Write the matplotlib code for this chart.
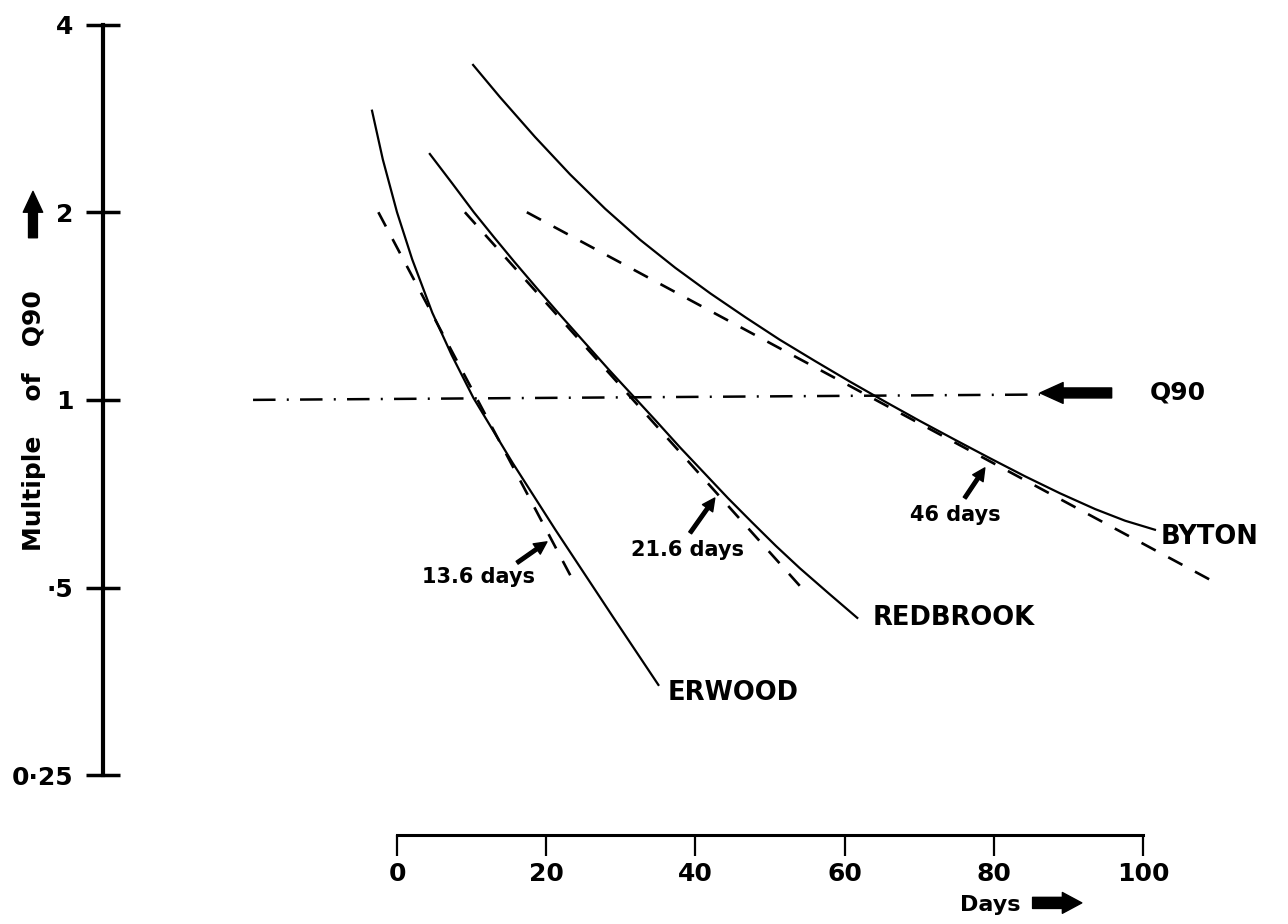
import matplotlib
matplotlib.use('Agg')
import matplotlib.pyplot as plt
from matplotlib.ticker import NullLocator

# ---------------- data ----------------
erwood_days = [-3.35, -1.9, 0.0, 2.04, 4.73, 7.33, 10.25, 15.48, 21.23, 28.93, 35.04]
erwood_q = [2.91, 2.43, 2.00, 1.68, 1.38, 1.18, 1.007, 0.793, 0.619, 0.449, 0.349]

redbrook_days = [4.4, 7.4, 10.3, 13.0, 15.7, 18.8, 21.9, 25.1, 28.4, 31.6,
                 34.7, 37.9, 41.2, 44.4, 47.6, 50.8, 54.0, 57.9, 61.7]
redbrook_q = [2.48, 2.225, 2.00, 1.824, 1.667, 1.508, 1.367, 1.238, 1.118, 1.016,
              0.926, 0.840, 0.763, 0.695, 0.636, 0.583, 0.537, 0.489, 0.447]

byton_days = [10.2, 13.8, 18.5, 23.2, 27.9, 32.6, 37.3, 42.0, 46.7, 51.3,
              56.0, 60.7, 65.4, 70.1, 74.8, 79.5, 84.2, 88.9, 93.6, 97.6, 101.6]
byton_q = [3.446, 3.060, 2.641, 2.300, 2.026, 1.806, 1.629, 1.482, 1.357, 1.249,
           1.155, 1.070, 0.994, 0.925, 0.863, 0.806, 0.754, 0.708, 0.668, 0.640, 0.619]

# straight-line recession fits (dashed)
erwood_fit_days = [-2.5, 24.1]
erwood_fit_q = [2.0, 0.5]
redbrook_fit_days = [9.1, 54.2]
redbrook_fit_q = [2.0, 0.5]
byton_fit_days = [17.4, 109.6]
byton_fit_q = [2.0, 0.51]

# Q90 reference line
q90_days = [-19.3, 86.2]
q90_q = [1.0, 1.02]

# recession constants
fit_labels = ["13.6 days", "21.6 days", "46 days"]
station_names = ["ERWOOD", "REDBROOK", "BYTON"]

y_ticks = [0.25, 0.5, 1, 2, 4]
y_ticklabels = ["0·25", "·5", "1", "2", "4"]
x_ticks = [0, 20, 40, 60, 80, 100]

# ---------------- figure ----------------
plt.rcParams['font.family'] = ['DejaVu Sans']
plt.rcParams['font.weight'] = 'bold'

fig = plt.figure(figsize=(12.88, 9.24), dpi=100)
ax = fig.add_axes([0, 0, 1, 1])
ax.set_yscale('log', base=2)
ax.set_xlim(-53.22, 119.44)
ax.set_ylim(0.1443, 4.380)

for s in ['top', 'right']:
    ax.spines[s].set_visible(False)
ax.spines['left'].set_position(('data', -39.4))
ax.spines['left'].set_bounds(0.25, 4)
ax.spines['left'].set_linewidth(3.0)
ax.spines['bottom'].set_position(('data', 0.2007))
ax.spines['bottom'].set_bounds(0, 100)
ax.spines['bottom'].set_linewidth(2.2)

ax.set_yticks(y_ticks)
ax.set_yticklabels(y_ticklabels)
ax.yaxis.set_minor_locator(NullLocator())
ax.set_xticks(x_ticks)
ax.set_xticklabels([str(t) for t in x_ticks])
ax.xaxis.set_minor_locator(NullLocator())
ax.tick_params(axis='y', direction='inout', length=25, width=2.5, pad=9, labelsize=18)
ax.tick_params(axis='x', direction='out', length=15, width=1.6, pad=5, labelsize=18)

# curves
lw_solid = 1.6
for d, q in [(erwood_days, erwood_q), (redbrook_days, redbrook_q), (byton_days, byton_q)]:
    ax.plot(d, q, color='k', lw=lw_solid, solid_joinstyle='round')

for d, q in [(erwood_fit_days, erwood_fit_q), (redbrook_fit_days, redbrook_fit_q),
             (byton_fit_days, byton_fit_q)]:
    ax.plot(d, q, color='k', lw=1.9, dashes=(6.1, 5.4))

ax.plot(q90_days, q90_q, color='k', lw=1.8, dashes=(9, 4.5, 0.8, 4.5))

# Q90 big arrow and label
ax.annotate('', xy=(86.2, 1.026), xytext=(95.8, 1.026),
            arrowprops=dict(arrowstyle='simple,head_length=0.83,head_width=0.75,tail_width=0.36',
                            fc='k', ec='k', shrinkA=0, shrinkB=0, mutation_scale=20))
ax.text(100.9, 1.026, "Q90", fontsize=18, va='center', ha='left')

# station labels
ax.text(36.3, 0.339, station_names[0], fontsize=18.5, va='center', ha='left')
ax.text(63.8, 0.447, station_names[1], fontsize=18.5, va='center', ha='left')
ax.text(102.3, 0.603, station_names[2], fontsize=18.5, va='center', ha='left')

# recession constant labels with small arrows
small_style = 'simple,head_length=0.9,head_width=0.9,tail_width=0.25'
ax.text(10.9, 0.520, fit_labels[0], fontsize=15, va='center', ha='center')
ax.annotate('', xy=(20.1, 0.592), xytext=(16.1, 0.548),
            arrowprops=dict(arrowstyle=small_style, fc='k', ec='k',
                            shrinkA=0, shrinkB=0, mutation_scale=10))
ax.text(38.9, 0.575, fit_labels[1], fontsize=15, va='center', ha='center')
ax.annotate('', xy=(42.6, 0.696), xytext=(39.3, 0.612),
            arrowprops=dict(arrowstyle=small_style, fc='k', ec='k',
                            shrinkA=0, shrinkB=0, mutation_scale=10))
ax.text(74.8, 0.654, fit_labels[2], fontsize=15, va='center', ha='center')
ax.annotate('', xy=(78.8, 0.778), xytext=(76.1, 0.696),
            arrowprops=dict(arrowstyle=small_style, fc='k', ec='k',
                            shrinkA=0, shrinkB=0, mutation_scale=10))

# axis titles with arrows
ax.text(79.5, 0.155, "Days", fontsize=16, va='center', ha='center')
ax.annotate('', xy=(91.8, 0.156), xytext=(85.2, 0.156),
            arrowprops=dict(arrowstyle='simple,head_length=0.7,head_width=0.75,tail_width=0.4',
                            fc='k', ec='k', shrinkA=0, shrinkB=0, mutation_scale=20))

ax.text(-48.7, 0.925, "Multiple    of   Q90", fontsize=18, rotation=90,
        va='center', ha='center')
ax.annotate('', xy=(-48.8, 2.16), xytext=(-48.8, 1.82),
            arrowprops=dict(arrowstyle='simple,head_length=0.75,head_width=0.7,tail_width=0.32',
                            fc='k', ec='k', shrinkA=0, shrinkB=0, mutation_scale=20))

fig.savefig('out.png', dpi=100, facecolor='white')
